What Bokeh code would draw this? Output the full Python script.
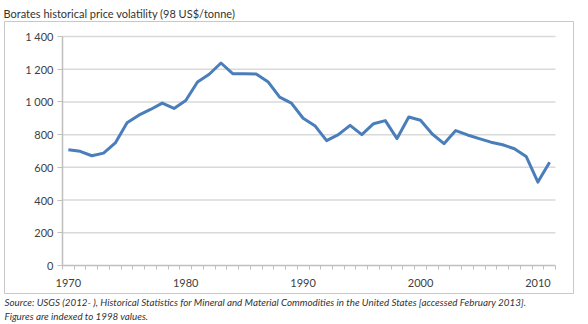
from bokeh.plotting import figure
from bokeh.models import Range1d, FixedTicker, Title
from bokeh.embed import file_html
from bokeh.resources import INLINE

years = list(range(1970, 2012))
price = [708, 698, 671, 687, 749, 872, 919, 954, 993, 960,
         1009, 1122, 1169, 1238, 1173, 1173, 1171, 1124, 1029, 993,
         900, 855, 763, 800, 857, 800, 867, 886, 776, 908,
         888, 804, 745, 825, 798, 776, 754, 738, 714, 667,
         510, 631]
y_ticks = [0, 200, 400, 600, 800, 1000, 1200, 1400]
y_tick_labels = ["0", "200", "400", "600", "800", "1 000", "1 200", "1 400"]
x_label_years = [1970, 1980, 1990, 2000, 2010]
title_text = "Borates historical price volatility (98 US$/tonne)"
source_line1 = ("Source: USGS (2012- ), Historical Statistics for Mineral and Material "
                "Commodities in the United States [accessed February 2013].")
source_line2 = "Figures are indexed to 1998 values."

FONT = "Lato"
W, H = 588, 324
# plot-area pixel box (axes) and outer chart-border pixel box
AL, AR, AT, AB = 62, 555, 36, 265
BL, BR, BT, BB = 4, 573, 21, 293

x0, x1 = years[0] - 0.5, years[-1] + 0.5
y0, y1 = y_ticks[0], y_ticks[-1]
ppx = (AR - AL) / (x1 - x0)
ppy = (AB - AT) / (y1 - y0)

p = figure(width=W, height=H, output_backend="svg", toolbar_location=None,
           x_range=Range1d(x0 - (AL - BL) / ppx, x1 + (BR - AR) / ppx),
           y_range=Range1d(y0 - (BB - AB) / ppy, y1 + (AT - BT) / ppy),
           min_border_left=BL, min_border_right=W - BR,
           min_border_top=BT, min_border_bottom=H - BB)
p.outline_line_color = "#c8c8c8"
p.outline_line_width = 1
p.background_fill_color = "white"
p.border_fill_color = "white"
p.xgrid.visible = False
p.ygrid.visible = False

# horizontal gridlines limited to the plot area
gy = [t for t in y_ticks if t != 0]
p.segment(x0=[x0] * len(gy), y0=gy, x1=[x1] * len(gy), y1=gy,
          line_color="#d9d9d9", line_width=1.5)

p.line(years, price, line_color="#4a7ebb", line_width=3, line_join="round")

# x axis
xa = p.xaxis[0]
xa.fixed_location = 0
xa.bounds = (x0, x1)
xa.ticker = FixedTicker(ticks=x_label_years,
                        minor_ticks=[y - 0.5 for y in years] + [x1])
xa.axis_line_color = "#bfbfbf"
xa.axis_line_width = 1.5
xa.major_tick_line_color = None
xa.major_tick_out = 0
xa.major_tick_in = 0
xa.minor_tick_line_color = "#bfbfbf"
xa.minor_tick_line_width = 1
xa.minor_tick_in = 0
xa.minor_tick_out = 4
xa.major_label_standoff = 9
xa.major_label_text_font = FONT
xa.major_label_text_font_size = "11px"
xa.major_label_text_color = "#404040"

# y axis
ya = p.yaxis[0]
ya.fixed_location = x0
ya.bounds = (y0, y1)
ya.ticker = FixedTicker(ticks=y_ticks)
ya.major_label_overrides = {t: l for t, l in zip(y_ticks, y_tick_labels)}
ya.axis_line_color = "#bfbfbf"
ya.axis_line_width = 1.5
ya.major_tick_line_color = "#bfbfbf"
ya.major_tick_out = 5
ya.major_tick_in = 0
ya.minor_tick_line_color = None
ya.major_label_standoff = 4
ya.major_label_text_font = FONT
ya.major_label_text_font_size = "11px"
ya.major_label_text_color = "#404040"

# chart title above the border box
p.title.text = title_text
p.title.align = "left"
p.title.offset = -1
p.title.standoff = 3
p.title.text_font = FONT
p.title.text_font_size = "11px"
p.title.text_font_style = "normal"
p.title.text_color = "#333333"

# source notes below the border box
for txt in (source_line1, source_line2):
    p.add_layout(Title(text=txt, align="left", offset=0, standoff=0,
                       text_font=FONT, text_font_size="9.8px",
                       text_font_style="italic", text_color="#333333"), "below")

open("out.html", "w").write(file_html(p, INLINE))
